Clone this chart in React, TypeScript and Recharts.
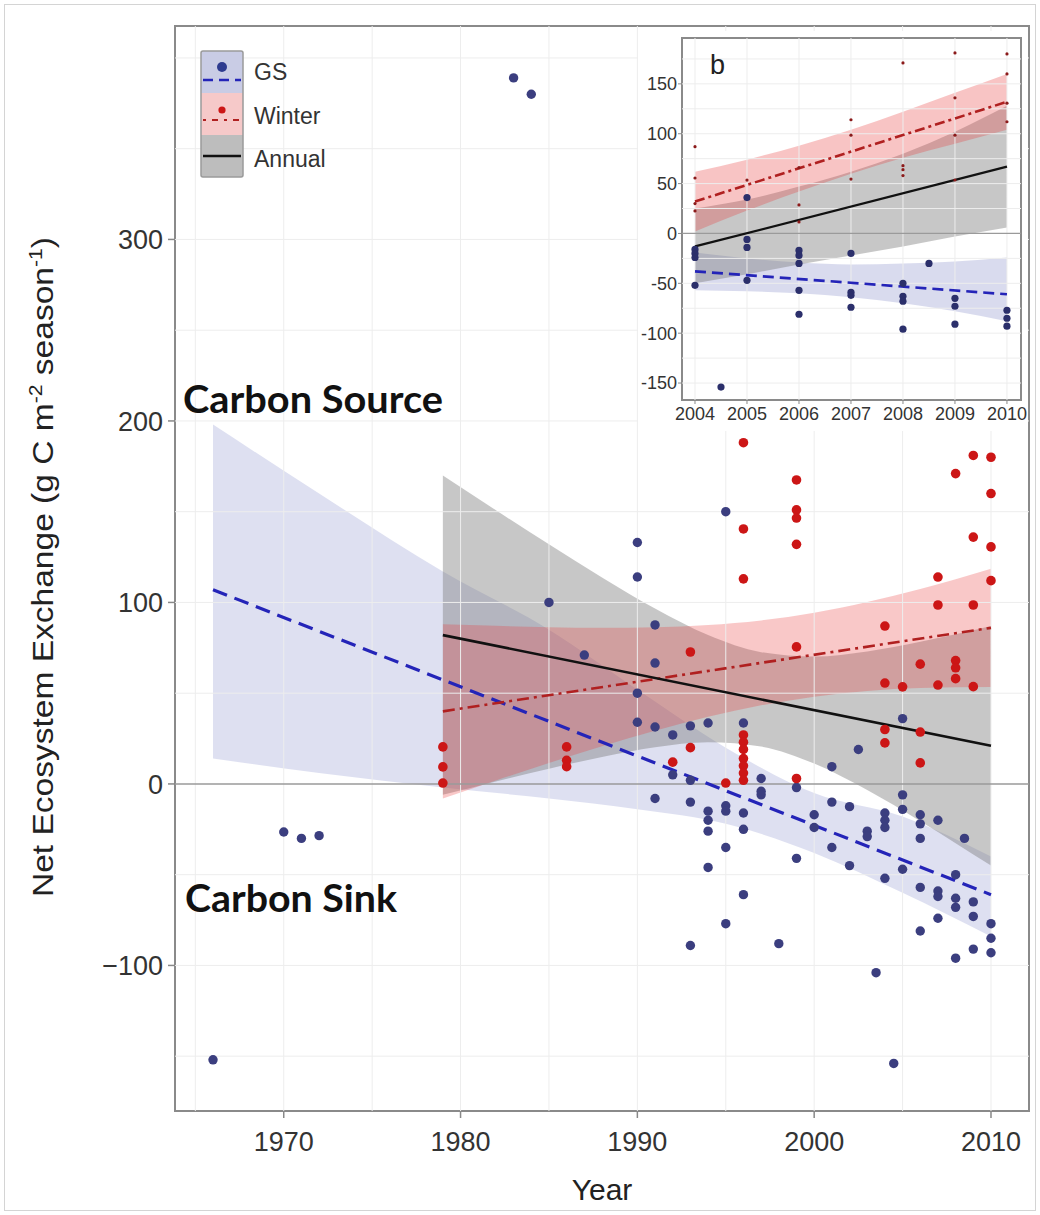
import React from 'react';
import {
  ComposedChart, Area, Line, Scatter, XAxis, YAxis, ReferenceLine, ReferenceArea,
} from 'recharts';

// ---------- DATA ----------
// GS (growing season) NEE points: [year, value]
const gsPoints: [number, number][] = [
  [1966, -152], [1970, -26.5], [1971, -30], [1972, -28.5],
  [1983, 389], [1984, 380], [1985, 100], [1987, 71],
  [1990, 133], [1990, 114], [1990, 50], [1990, 34],
  [1991, 87.6], [1991, 66.6], [1991, 31.4], [1991, -8],
  [1992, 27], [1992, 5],
  [1993, 32], [1993, 2], [1993, -10], [1993, -89],
  [1994, 33.6], [1994, -15], [1994, -20], [1994, -26], [1994, -46],
  [1995, 150], [1995, -12], [1995, -15], [1995, -35], [1995, -77],
  [1996, 33.6], [1996, -16], [1996, -25], [1996, -61],
  [1997, 3], [1997, -4], [1997, -6],
  [1998, -88],
  [1999, -2], [1999, -41],
  [2000, -17], [2000, -24],
  [2001, 9.5], [2001, -10], [2001, -35],
  [2002, -12.5], [2002, -45], [2002.5, 19],
  [2003, -26], [2003, -29], [2003.5, -104],
  [2004, -16], [2004, -20], [2004, -24], [2004, -52], [2004.5, -154],
  [2005, 36], [2005, -6], [2005, -14], [2005, -47],
  [2006, -17], [2006, -22], [2006, -30], [2006, -57], [2006, -81],
  [2007, -20], [2007, -59], [2007, -62], [2007, -74],
  [2008, -50], [2008, -63], [2008, -68], [2008, -96], [2008.5, -30],
  [2009, -65], [2009, -73], [2009, -91],
  [2010, -77], [2010, -85], [2010, -93],
];

// Winter NEE points: [year, value]
const winterPoints: [number, number][] = [
  [1979, 20.4], [1979, 9.4], [1979, 0.5],
  [1986, 20.4], [1986, 13], [1986, 9.5],
  [1992, 12], [1993, 72.7], [1993, 20], [1995, 0.5],
  [1996, 188], [1996, 140.5], [1996, 113], [1996, 27], [1996, 23], [1996, 19],
  [1996, 14], [1996, 10], [1996, 6], [1996, 2],
  [1999, 167.5], [1999, 151], [1999, 146.5], [1999, 132], [1999, 75.5], [1999, 3],
  [2004, 87], [2004, 55.6], [2004, 30], [2004, 22.6],
  [2005, 53.5],
  [2006, 66], [2006, 28.6], [2006, 11.6],
  [2007, 114], [2007, 98.6], [2007, 54.5],
  [2008, 171], [2008, 68], [2008, 64], [2008, 58],
  [2009, 181], [2009, 136], [2009, 98.6], [2009, 53.6],
  [2010, 180], [2010, 160], [2010, 130.6], [2010, 112],
];

// Fitted trend lines: [year, value]
const gsFit: [number, number][] = [[1966, 107], [2010, -61]];
const winterFit: [number, number][] = [[1979, 40], [2010, 86]];
const annualFit: [number, number][] = [[1979, 82], [2010, 21]];

// Confidence bands: [year, low, high]
const gsBand: [number, number, number][] = [
  [1966, 14, 198], [1972, 6, 160], [1979, -2, 117], [1985, -8, 85],
  [1990, -14, 52], [1995, -22, 20], [2000, -38, -5], [2005, -60, -18], [2010, -84, -40],
];
const winterBand: [number, number, number][] = [
  [1979, -8, 88], [1982, 1.9, 87.1], [1985, 11.5, 86.3], [1988, 20.8, 86],
  [1991, 29.3, 86.3], [1994, 37, 87.6], [1997, 43.3, 90.1], [2000, 48.1, 94.3],
  [2003, 51.2, 100.2], [2006, 52.8, 107.4], [2010, 53.4, 118.6],
];
const annualBand: [number, number, number][] = [
  [1979, -6, 170], [1982, 1.4, 150.8], [1985, 8.4, 132], [1988, 14.9, 113.7],
  [1991, 20.2, 96.6], [1994, 23, 82], [1997, 20.6, 72.6], [2000, 11.2, 70.2],
  [2003, -3.4, 73], [2006, -20.5, 78.3], [2010, -45, 87],
];

// Inset (panel b), 2004-2010
const insetGsFit: [number, number][] = [[2004, -38], [2010, -61]];
const insetWinterFit: [number, number][] = [[2004, 32], [2010, 132]];
const insetAnnualFit: [number, number][] = [[2004, -13], [2010, 67]];
const insetGsBand: [number, number, number][] = [
  [2004, -57, -19], [2005, -58, -25], [2006, -60, -29], [2007, -64, -31],
  [2008, -70, -30], [2009, -78, -28], [2010, -88, -24],
];
const insetWinterBand: [number, number, number][] = [
  [2004, 2, 62], [2005, 23, 74], [2006, 42, 88], [2007, 60, 104],
  [2008, 76, 122], [2009, 90, 141], [2010, 104, 160],
];
const insetAnnualBand: [number, number, number][] = [
  [2004, -50, 25], [2005, -41, 34], [2006, -31, 47], [2007, -22, 62],
  [2008, -13, 80], [2009, -3, 102], [2010, 6, 128],
];

// Axis ticks / grid
const xTicks = [1970, 1980, 1990, 2000, 2010];
const yTicks = [-100, 0, 100, 200, 300];
const xGrid = [1965, 1970, 1975, 1980, 1985, 1990, 1995, 2000, 2005, 2010];
const yGrid = [-150, -100, -50, 50, 100, 150, 200, 250, 300, 350, 400];
const insetXTicks = [2004, 2005, 2006, 2007, 2008, 2009, 2010];
const insetYTicks = [-150, -100, -50, 0, 50, 100, 150];
const insetYGrid = [-150, -125, -100, -75, -50, -25, 25, 50, 75, 100, 125, 150, 175];

const legendItems = ['GS', 'Winter', 'Annual'];

// ---------- helpers ----------
const toXY = (pts: [number, number][]) => pts.map(([x, y]) => ({ x, y }));
const toBand = (rows: [number, number, number][]) => rows.map(([x, lo, hi]) => ({ x, band: [lo, hi] }));

const MAIN_X: [number, number] = [1963.85, 2012.15];
const MAIN_Y: [number, number] = [-180.2, 417.6];
const INSET_X: [number, number] = [2003.75, 2010.27];
const INSET_Y: [number, number] = [-167, 196];

const FONT = '"Liberation Sans", Arial, Helvetica, sans-serif';

const BLUE_PT = '#3b3e7f';
const RED_PT = '#cc1616';
const BLUE_LINE = '#2424b8';
const RED_LINE = '#b02020';

const dot = (r: number, fill: string) => (props: any) => (
  <circle cx={props.cx} cy={props.cy} r={r} fill={fill} />
);

const minusFmt = (v: number) => String(v).replace('-', '\u2212');

function MainChart() {
  return (
    <ComposedChart
      width={1040}
      height={1215}
      margin={{ top: 26, right: 11, bottom: 44, left: 95 }}
    >
      <XAxis
        type="number"
        dataKey="x"
        domain={MAIN_X}
        allowDataOverflow
        ticks={xTicks}
        tickSize={7}
        tickMargin={14}
        height={60}
        axisLine={false}
        tickLine={{ stroke: '#888', strokeWidth: 1.5 }}
        tick={{ fill: '#333', fontSize: 27, fontFamily: FONT }}
      />
      <YAxis
        type="number"
        domain={MAIN_Y}
        allowDataOverflow
        ticks={yTicks}
        tickSize={7}
        tickMargin={5}
        width={80}
        axisLine={false}
        tickFormatter={minusFmt}
        tickLine={{ stroke: '#888', strokeWidth: 1.5 }}
        tick={{ fill: '#333', fontSize: 27, fontFamily: FONT }}
      />
      {xGrid.map((v) => (
        <ReferenceLine key={'xg' + v} x={v} stroke="#ededed" strokeWidth={1} />
      ))}
      {yGrid.map((v) => (
        <ReferenceLine key={'yg' + v} y={v} stroke="#ededed" strokeWidth={1} />
      ))}
      <Area data={toBand(gsBand)} dataKey="band" type="monotone" stroke="none"
        fill="#8088c8" fillOpacity={0.26} isAnimationActive={false} />
      <Area data={toBand(annualBand)} dataKey="band" type="monotone" stroke="none"
        fill="#7a7a7a" fillOpacity={0.42} isAnimationActive={false} />
      <Area data={toBand(winterBand)} dataKey="band" type="monotone" stroke="none"
        fill="#e83a3a" fillOpacity={0.28} isAnimationActive={false} />
      <ReferenceLine y={0} stroke="#9a9a9a" strokeWidth={1.5} />
      <Scatter data={toXY(gsPoints)} dataKey="y" shape={dot(4.7, BLUE_PT)} isAnimationActive={false} />
      <Scatter data={toXY(winterPoints)} dataKey="y" shape={dot(4.8, RED_PT)} isAnimationActive={false} />
      <Line data={toXY(gsFit)} dataKey="y" stroke={BLUE_LINE} strokeWidth={3.2}
        strokeDasharray="15 8" dot={false} activeDot={false} isAnimationActive={false} />
      <Line data={toXY(winterFit)} dataKey="y" stroke={RED_LINE} strokeWidth={2.6}
        strokeDasharray="12 5 3 5" dot={false} activeDot={false} isAnimationActive={false} />
      <Line data={toXY(annualFit)} dataKey="y" stroke="#111" strokeWidth={2.6}
        dot={false} activeDot={false} isAnimationActive={false} />
      <ReferenceArea x1={MAIN_X[0]} x2={MAIN_X[1]} y1={MAIN_Y[0]} y2={MAIN_Y[1]}
        fill="none" fillOpacity={0} stroke="#8a8a8a" strokeWidth={2} />
    </ComposedChart>
  );
}

function InsetChart() {
  const inGs = gsPoints.filter(([x]) => x >= 2004);
  const inW = winterPoints.filter(([x]) => x >= 2004);
  return (
    <ComposedChart
      width={390}
      height={400}
      margin={{ top: 7, right: 7, bottom: 9, left: 0 }}
    >
      <XAxis
        type="number"
        dataKey="x"
        domain={INSET_X}
        allowDataOverflow
        ticks={insetXTicks}
        tickSize={4}
        tickMargin={3}
        height={22}
        axisLine={false}
        interval={0}
        tickLine={{ stroke: '#888', strokeWidth: 1 }}
        tick={{ fill: '#333', fontSize: 18, fontFamily: FONT }}
      />
      <YAxis
        type="number"
        domain={INSET_Y}
        allowDataOverflow
        ticks={insetYTicks}
        tickSize={4}
        tickMargin={1}
        width={44}
        interval={0}
        axisLine={false}
        tickLine={{ stroke: '#888', strokeWidth: 1 }}
        tick={{ fill: '#333', fontSize: 18, fontFamily: FONT }}
      />
      {insetXTicks.map((v) => (
        <ReferenceLine key={'ixg' + v} x={v} stroke="#ededed" strokeWidth={1} />
      ))}
      {insetYGrid.map((v) => (
        <ReferenceLine key={'iyg' + v} y={v} stroke="#ededed" strokeWidth={1} />
      ))}
      <Area data={toBand(insetGsBand)} dataKey="band" type="monotone" stroke="none"
        fill="#8088c8" fillOpacity={0.3} isAnimationActive={false} />
      <Area data={toBand(insetAnnualBand)} dataKey="band" type="monotone" stroke="none"
        fill="#7a7a7a" fillOpacity={0.42} isAnimationActive={false} />
      <Area data={toBand(insetWinterBand)} dataKey="band" type="monotone" stroke="none"
        fill="#e83a3a" fillOpacity={0.3} isAnimationActive={false} />
      <ReferenceLine y={0} stroke="#9a9a9a" strokeWidth={1.2} />
      <Scatter data={toXY(inGs)} dataKey="y" shape={dot(3.6, '#2b2f6b')} isAnimationActive={false} />
      <Scatter data={toXY(inW)} dataKey="y" shape={dot(1.6, '#8b1a1a')} isAnimationActive={false} />
      <Line data={toXY(insetGsFit)} dataKey="y" stroke={BLUE_LINE} strokeWidth={2.6}
        strokeDasharray="11 6" dot={false} activeDot={false} isAnimationActive={false} />
      <Line data={toXY(insetWinterFit)} dataKey="y" stroke={RED_LINE} strokeWidth={2.6}
        strokeDasharray="10 4 3 4" dot={false} activeDot={false} isAnimationActive={false} />
      <Line data={toXY(insetAnnualFit)} dataKey="y" stroke="#111" strokeWidth={2.2}
        dot={false} activeDot={false} isAnimationActive={false} />
      <ReferenceArea x1={INSET_X[0]} x2={INSET_X[1]} y1={INSET_Y[0]} y2={INSET_Y[1]}
        fill="none" fillOpacity={0} stroke="#8a8a8a" strokeWidth={2} />
    </ComposedChart>
  );
}

function LegendKey() {
  const rowH = 42;
  const bgs = ['#c9cce5', '#f6c9c9', '#bdbdbd'];
  return (
    <svg width={140} height={132} style={{ position: 'absolute', left: 200, top: 50 }}>
      {bgs.map((c, i) => (
        <rect key={i} x={1} y={1 + i * rowH} width={42} height={rowH} fill={c} />
      ))}
      <rect x={1} y={1} width={42} height={rowH * 3} fill="none" stroke="#9a9a9a" strokeWidth={1.5} rx={2} />
      <circle cx={22} cy={17} r={5} fill="#2e3b8f" />
      <line x1={3} x2={41} y1={30} y2={30} stroke={BLUE_LINE} strokeWidth={2.5} strokeDasharray="10 6" />
      <circle cx={22} cy={60} r={3.6} fill={RED_PT} />
      <line x1={3} x2={41} y1={70} y2={70} stroke={RED_LINE} strokeWidth={2} strokeDasharray="3 6 6 6" />
      <line x1={3} x2={41} y1={106} y2={106} stroke="#111" strokeWidth={2.5} />
      {legendItems.map((t, i) => (
        <text key={t} x={54} y={30 + i * 43.5} fontSize={23} fontFamily={FONT} fill="#333">{t}</text>
      ))}
    </svg>
  );
}

function Overlay() {
  return (
    <svg width={1040} height={1215} style={{ position: 'absolute', left: 0, top: 0, pointerEvents: 'none' }}>
      <text
        transform="translate(53,567) rotate(-90)"
        textAnchor="middle"
        fontSize={30}
        fontFamily={FONT}
        fill="#222"
        textLength={660}
        lengthAdjust="spacingAndGlyphs"
      >
        Net Ecosystem Exchange (g C m
        <tspan fontSize={19} dy={-11}>-2</tspan>
        <tspan dy={11}> season</tspan>
        <tspan fontSize={19} dy={-11}>-1</tspan>
        <tspan dy={11}>)</tspan>
      </text>
      <text x={602} y={1200} textAnchor="middle" fontSize={30} fontFamily={FONT} fill="#222">Year</text>
      <text x={183} y={413} fontSize={38} fontWeight="bold" fontFamily="Lato, 'Open Sans', sans-serif"
        fill="#111" textLength={260} lengthAdjust="spacingAndGlyphs">Carbon Source</text>
      <text x={185} y={912} fontSize={38} fontWeight="bold" fontFamily="Lato, 'Open Sans', sans-serif"
        fill="#111" textLength={212} lengthAdjust="spacingAndGlyphs">Carbon Sink</text>
      <text x={710} y={74} fontSize={27} fontFamily={FONT} fill="#222">b</text>
    </svg>
  );
}

export default function App() {
  return (
    <div style={{ position: 'absolute', left: 0, top: 0, width: 1040, height: 1215, background: '#fff', overflow: 'hidden' }}>
      <div style={{ position: 'absolute', left: 4, top: 4, width: 1030, height: 1205, border: '1px solid #d4d4d4' }} />
      <div style={{ position: 'absolute', left: 0, top: 0 }}>
        <MainChart />
      </div>
      <div style={{ position: 'absolute', left: 638, top: 31, width: 390, height: 400, background: '#fff' }}>
        <InsetChart />
      </div>
      <LegendKey />
      <Overlay />
    </div>
  );
}
